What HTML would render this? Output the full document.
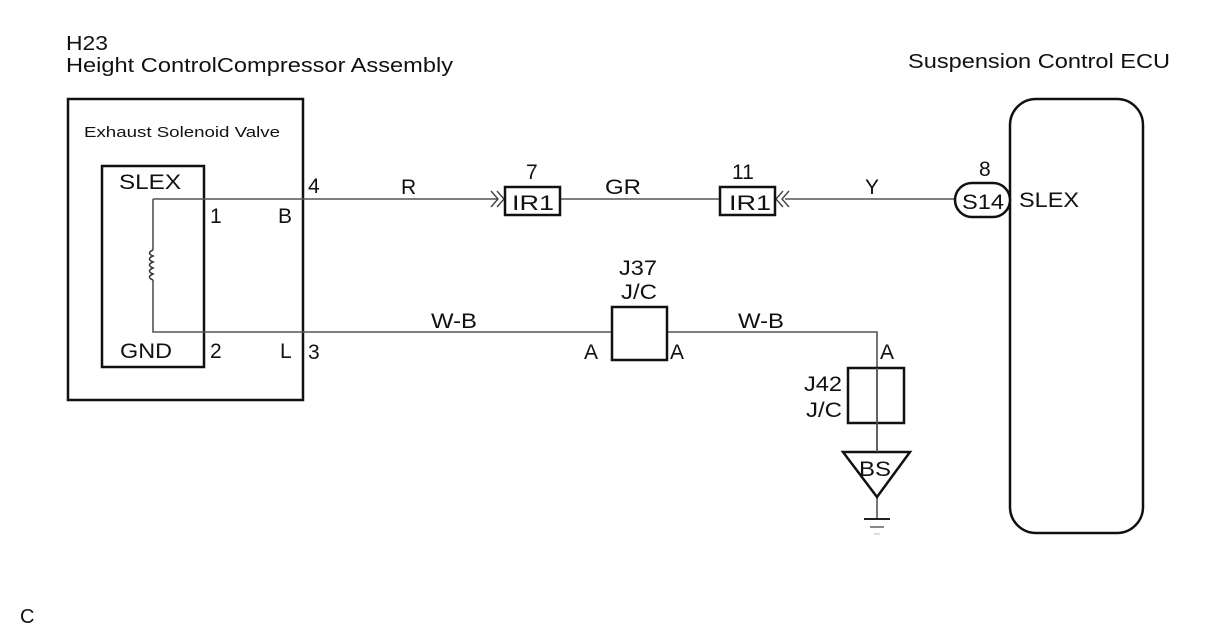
<!DOCTYPE html>
<html><head><meta charset="utf-8"><style>
body{margin:0;background:#fff;}
svg text{font-family:"Liberation Sans",Arial,sans-serif;fill:#111;}
</style></head><body>
<svg width="1212" height="634" viewBox="0 0 1212 634" xmlns="http://www.w3.org/2000/svg">
<g font-size="20">
<text x="66" y="50" textLength="42" lengthAdjust="spacingAndGlyphs">H23</text>
<text x="66" y="72" textLength="387" lengthAdjust="spacingAndGlyphs">Height ControlCompressor Assembly</text>
<text x="908" y="68" textLength="262" lengthAdjust="spacingAndGlyphs">Suspension Control ECU</text>
<text x="20" y="623">C</text>
</g>
<rect x="68" y="99" width="235" height="301" fill="none" stroke="#111" stroke-width="2.5"/>
<text x="84" y="137" font-size="15" textLength="196" lengthAdjust="spacingAndGlyphs">Exhaust Solenoid Valve</text>
<rect x="102" y="166" width="102" height="201" fill="none" stroke="#111" stroke-width="2.5"/>
<g font-size="21">
<text x="119" y="189" textLength="62" lengthAdjust="spacingAndGlyphs">SLEX</text>
<text x="120" y="358" textLength="52" lengthAdjust="spacingAndGlyphs">GND</text>
<text x="210" y="223">1</text>
<text x="278" y="223">B</text>
<text x="210" y="358">2</text>
<text x="280" y="358">L</text>
<text x="308" y="193">4</text>
<text x="308" y="359">3</text>
</g>
<g stroke="#555" stroke-width="1.6" fill="none">
<path d="M153 199 H497"/>
<path d="M153 199 V250 M153 280 V332 H877 V500"/>
<path d="M560 199 H720"/>
<path d="M785 199 H955"/>
<path d="M877 500 V518"/>
</g>
<path d="M153 250 q-7 3 0 6 q-7 3 0 6 q-7 3 0 6 q-7 3 0 6 q-7 3 0 6" stroke="#333" stroke-width="1.5" fill="none"/>
<path d="M491 191 l7 8 l-7 8 M497 191 l7 8 l-7 8" stroke="#444" stroke-width="1.4" fill="none"/>
<path d="M789 191 l-7 8 l7 8 M783 191 l-7 8 l7 8" stroke="#444" stroke-width="1.4" fill="none"/>
<g stroke="#111" stroke-width="2.5" fill="#fff">
<rect x="505" y="187" width="55" height="28"/>
<rect x="720" y="187" width="55" height="28"/>
<rect x="612" y="307" width="55" height="53"/>
<rect x="848" y="368" width="56" height="55" fill="none"/>
<rect x="1010" y="99" width="133" height="434" rx="26" fill="none"/>
<rect x="955" y="183" width="55" height="34" rx="17"/>
<path d="M843 452 H910 L877 497 Z"/>
</g>
<path d="M877 368 V452" stroke="#555" stroke-width="1.6"/>
<path d="M864 519 H890" stroke="#222" stroke-width="2"/>
<path d="M870 527 H884" stroke="#555" stroke-width="1.4"/>
<path d="M874 534 H880" stroke="#bbb" stroke-width="1"/>
<g font-size="21">
<text x="512" y="210" textLength="42" lengthAdjust="spacingAndGlyphs">IR1</text>
<text x="729" y="210" textLength="42" lengthAdjust="spacingAndGlyphs">IR1</text>
<text x="962" y="209" textLength="42" lengthAdjust="spacingAndGlyphs">S14</text>
<text x="1019" y="207" textLength="60" lengthAdjust="spacingAndGlyphs">SLEX</text>
<text x="979" y="176">8</text>
<text x="526" y="179">7</text>
<text x="732" y="179">11</text>
<text x="401" y="194">R</text>
<text x="605" y="194" textLength="36" lengthAdjust="spacingAndGlyphs">GR</text>
<text x="865" y="194">Y</text>
<text x="431" y="328" textLength="46" lengthAdjust="spacingAndGlyphs">W-B</text>
<text x="738" y="328" textLength="46" lengthAdjust="spacingAndGlyphs">W-B</text>
<text x="619" y="275" textLength="38" lengthAdjust="spacingAndGlyphs">J37</text>
<text x="621" y="299" textLength="36" lengthAdjust="spacingAndGlyphs">J/C</text>
<text x="584" y="359">A</text>
<text x="670" y="359">A</text>
<text x="880" y="359">A</text>
<text x="804" y="391" textLength="38" lengthAdjust="spacingAndGlyphs">J42</text>
<text x="806" y="417" textLength="36" lengthAdjust="spacingAndGlyphs">J/C</text>
<text x="859" y="476" font-size="21" textLength="32" lengthAdjust="spacingAndGlyphs">BS</text>
</g>
</svg>
</body></html>
